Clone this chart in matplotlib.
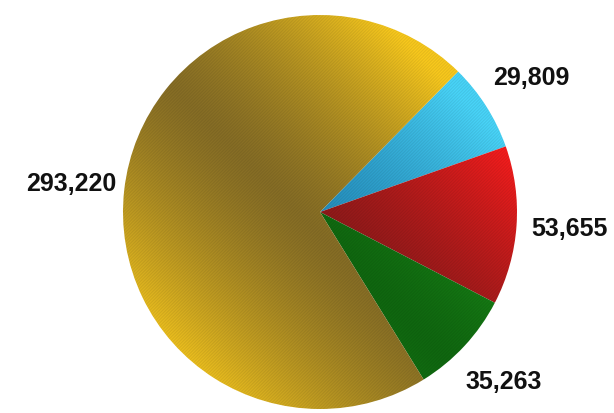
import matplotlib
matplotlib.use('Agg')
import matplotlib.pyplot as plt
import numpy as np

# slice values, clockwise from the top right
values = [29809, 53655, 35263, 293220]
labels = ['29,809', '53,655', '35,263', '293,220']

# (bright, dark) shades for each slice
bright = [(70, 205, 240), (242, 28, 28), (35, 165, 30), (240, 194, 28)]
dark = [(35, 135, 180), (135, 25, 25), (15, 100, 15), (130, 106, 36)]

W, H = 614, 413
cx, cy, R = 320, 413 - 212, 197

fig = plt.figure(figsize=(W / 100, H / 100), dpi=100)
ax = fig.add_axes([0, 0, 1, 1])

wedges, texts = ax.pie(values, labels=labels, startangle=45.5, counterclock=False,
                       center=(cx, cy), radius=R, labeldistance=1.27,
                       wedgeprops=dict(linewidth=0),
                       textprops=dict(fontsize=18, fontweight='bold',
                                      family='Liberation Sans', color='#111111'))
for t in texts:
    t.set_ha('center')
    t.set_va('center')

# metallic shading: soft dark band along the diagonal through the centre,
# brighter towards the upper right and lower left rims
yy, xx = np.mgrid[0:H, 0:W]
px = xx + 0.5
py = (H - yy) - 0.5
t = ((px - cx) + (py - cy)) / (np.sqrt(2) * R)
mix = np.clip(np.abs(t + 0.08) / 1.0, 0, 1) ** 1.4
stripes = 1 + 0.035 * np.sin((px - py) * 2 * np.pi / 3.2)

for w, b, d in zip(wedges, bright, dark):
    b = np.array(b) / 255.0
    d = np.array(d) / 255.0
    img = d[None, None, :] + (b - d)[None, None, :] * mix[..., None]
    img = np.clip(img * stripes[..., None], 0, 1)
    w.set_facecolor('none')
    im = ax.imshow(img, extent=(0, W, 0, H), origin='upper', interpolation='bilinear',
                   zorder=w.get_zorder() - 0.1)
    im.set_clip_path(w)

ax.set_xlim(0, W)
ax.set_ylim(0, H)
ax.set_aspect('auto')
ax.axis('off')

fig.savefig('out.png', dpi=100, facecolor='white')
